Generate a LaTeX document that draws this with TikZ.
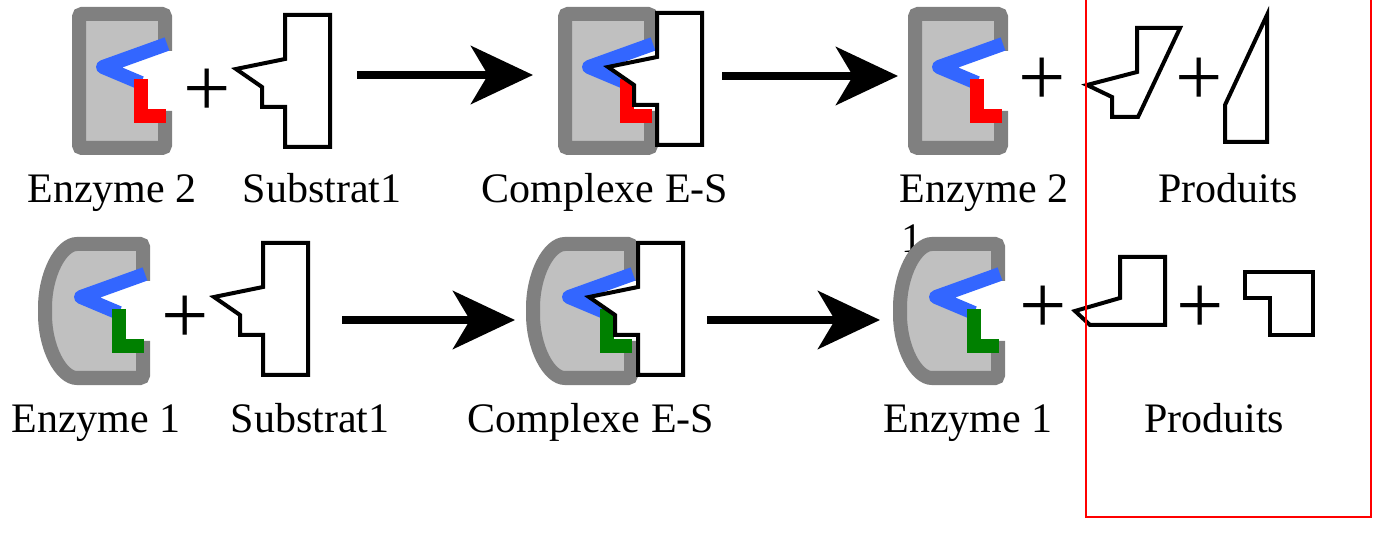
\documentclass[tikz,border=0pt]{standalone}
\usepackage{fontspec}
\setmainfont{Liberation Serif}
\usetikzlibrary{arrows.meta}

\definecolor{enzgray}{RGB}{128,128,128}
\definecolor{enzlight}{RGB}{192,192,192}
\definecolor{siteblue}{RGB}{51,102,255}
\definecolor{sitered}{RGB}{255,0,0}
\definecolor{sitegreen}{RGB}{0,128,0}

\tikzset{
	enzborder/.style={draw=enzgray, line width=14pt, rounded corners=3pt},
	siteline/.style={line width=14pt, line cap=butt},
	substrate/.style={draw=black, fill=white, line width=4pt, line join=miter},
	product/.style={draw=black, line width=4pt, line join=miter},
	reaction/.style={line width=8pt, -{Stealth[length=62pt, width=58pt, inset=17pt]}},
	nom/.style={font=\fontsize{42}{48}\selectfont, anchor=base, inner sep=0pt},
	signe/.style={font=\fontsize{84}{90}\selectfont, inner sep=0pt},
	cadre/.style={draw=red, line width=2pt},
	% square enzyme, origin at the outer top right corner
	pics/enzsq/.style={code={
		\fill [enzlight]	(-7, 7) -- (-93, 7) -- (-93, 141) -- (-7, 141) -- (-7, 108)
							-- (-31, 108) -- (-31, 76) -- (-68, 60) -- (-7, 37) -- cycle;
		\draw [enzborder]	(-7, 44) -- (-7, 7) -- (-93, 7) -- (-93, 141) -- (-7, 141) -- (-7, 104);
		\draw [siteline, siteblue, line join=round]	(-5, 37) -- (-69, 60) -- (-31, 76);
		\draw [siteline, #1, line join=miter]	(-31, 72) -- (-31, 109) -- (-6, 109);
	}},
	% rounded enzyme, same active site
	pics/enzround/.style={code={
		\fill [enzlight]	(-7, 7) -- (-70, 7) .. controls (-89, 7) and (-105, 37) .. (-105, 74)
							.. controls (-105, 111) and (-89, 141) .. (-70, 141) -- (-7, 141) -- (-7, 108)
							-- (-31, 108) -- (-31, 76) -- (-68, 60) -- (-7, 37) -- cycle;
		\draw [enzborder]	(-7, 44) -- (-7, 7) -- (-70, 7) .. controls (-89, 7) and (-105, 37) .. (-105, 74)
							.. controls (-105, 111) and (-89, 141) .. (-70, 141) -- (-7, 141) -- (-7, 104);
		\draw [siteline, siteblue, line join=round]	(-5, 37) -- (-69, 60) -- (-31, 76);
		\draw [siteline, #1, line join=miter]	(-31, 72) -- (-31, 109) -- (-6, 109);
	}},
	% substrate, origin at the top left corner of its block
	pics/substrat/.style={code={
		\draw [substrate]	(0, 0) -- (45, 0) -- (45, 132) -- (0, 132) -- (0, 92)
							-- (-23, 92) -- (-23, 72) -- (-49, 54) -- (0, 44) -- cycle;
	}},
}

\begin{document}
\begin{tikzpicture}[x=1pt, y=-1pt]
		\useasboundingbox [fill=white]	(0, 0) rectangle (1373, 534);

		% first reaction
		\pic at (172, 7) {enzsq=sitered};
		\node [signe] (plusA) at (207, 93) {+};
		\pic at (285, 15) {substrat};
		\coordinate (a1s) at (357, 75);
		\coordinate (a1e) at (533, 75);
		\draw [reaction]	(a1s) -- (a1e);

		\pic at (658, 7) {enzsq=sitered};
		\pic at (657, 13) {substrat};
		\coordinate (a2s) at (722, 76);
		\coordinate (a2e) at (898, 76);
		\draw [reaction]	(a2s) -- (a2e);

		\pic at (1008, 7) {enzsq=sitered};
		\node [signe] (plusB) at (1042, 82) {+};
		\draw [product]	(1087, 85) -- (1137, 72) -- (1137, 28) -- (1180, 28) -- (1138, 117)
						-- (1112, 117) -- (1112, 97) -- cycle;
		\node [signe] (plusC) at (1199, 82) {+};
		\draw [product]	(1225, 105) -- (1267, 15) -- (1267, 142) -- (1225, 142) -- cycle;

		\node [nom] (enzA) at (112, 203) {Enzyme 2};
		\node [nom] (subA) at (322, 203) {Substrat1};
		\node [nom] (cplxA) at (605, 203) {Complexe E-S};
		\node [nom] (enzB) at (984, 203) {Enzyme 2};
		\node [nom] (enzBb) at (912, 253) {1};
		\node [nom] (prodA) at (1228, 203) {Produits};

		% second reaction
		\pic at (150, 237) {enzround=sitegreen};
		\node [signe] (plusD) at (185, 320) {+};
		\pic at (263, 243) {substrat};
		\coordinate (a3s) at (342, 320);
		\coordinate (a3e) at (515, 320);
		\draw [reaction]	(a3s) -- (a3e);

		\pic at (638, 237) {enzround=sitegreen};
		\pic at (638, 243) {substrat};
		\coordinate (a4s) at (707, 320);
		\coordinate (a4e) at (880, 320);
		\draw [reaction]	(a4s) -- (a4e);

		\pic at (1005, 237) {enzround=sitegreen};
		\node [signe] (plusE) at (1043, 310) {+};
		\draw [product]	(1075, 311) -- (1120, 298) -- (1120, 257) -- (1165, 257) -- (1165, 325)
						-- (1090, 325) -- cycle;
		\node [signe] (plusF) at (1200, 310) {+};
		\draw [product]	(1245, 272) -- (1313, 272) -- (1313, 335) -- (1270, 335) -- (1270, 298)
						-- (1245, 298) -- cycle;

		\node [nom] (enzC) at (96, 432) {Enzyme 1};
		\node [nom] (subB) at (310, 432) {Substrat1};
		\node [nom] (cplxB) at (591, 432) {Complexe E-S};
		\node [nom] (enzD) at (968, 432) {Enzyme 1};
		\node [nom] (prodB) at (1214, 432) {Produits};

		\draw [cadre]	(1086, -5) rectangle (1371, 517);
\end{tikzpicture}
\end{document}
